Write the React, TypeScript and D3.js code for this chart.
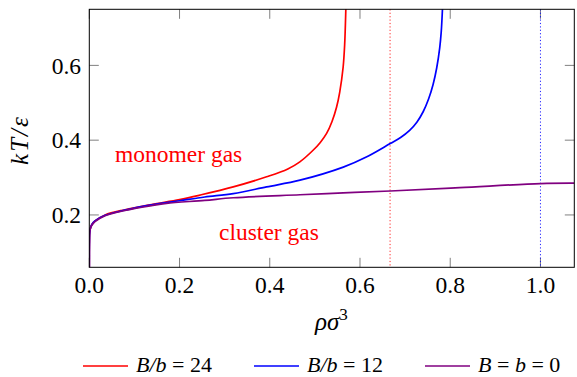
import React, { useEffect, useState } from "react";
import * as d3 from "d3";

// ---- data ----
const redX = [0, 0.0003, 0.001, 0.003, 0.006, 0.0126, 0.035, 0.079, 0.138, 0.2, 0.245, 0.319, 0.393, 0.44, 0.4667, 0.496, 0.512, 0.526, 0.538, 0.548, 0.555, 0.5626, 0.566, 0.5686, 0.5702];
const redY = [0.06, 0.13, 0.155, 0.167, 0.175, 0.184, 0.2, 0.214, 0.228, 0.241, 0.253, 0.275, 0.302, 0.323, 0.342, 0.373, 0.394, 0.418, 0.45, 0.488, 0.528, 0.595, 0.655, 0.75, 0.83];

const blueX = [0, 0.0003, 0.001, 0.003, 0.006, 0.0126, 0.035, 0.079, 0.138, 0.2, 0.256, 0.319, 0.393, 0.467, 0.563, 0.614, 0.667, 0.69, 0.71, 0.726, 0.74, 0.752, 0.762, 0.77, 0.7767, 0.78, 0.7827, 0.7845];
const blueY = [0.06, 0.13, 0.155, 0.167, 0.175, 0.184, 0.199, 0.213, 0.227, 0.238, 0.248, 0.257, 0.275, 0.293, 0.328, 0.355, 0.391, 0.407, 0.426, 0.448, 0.476, 0.51, 0.549, 0.593, 0.647, 0.689, 0.749, 0.82];

const purpleX = [0, 0.0003, 0.001, 0.003, 0.006, 0.0126, 0.035, 0.079, 0.138, 0.171, 0.256, 0.319, 0.467, 0.563, 0.667, 0.821, 1.0, 1.075];
const purpleY = [0.06, 0.13, 0.155, 0.166, 0.173, 0.182, 0.198, 0.212, 0.225, 0.231, 0.239, 0.246, 0.254, 0.259, 0.264, 0.273, 0.284, 0.285];

const xTicks = [0, 0.2, 0.4, 0.6, 0.8, 1.0];
const yTicks = [0.2, 0.4, 0.6];
const redLimit = 2 / 3;
const blueLimit = 1.0;

const legendLabels = [
  { it: "B/b", rest: " = 24", color: "#ff0000" },
  { it: "B/b", rest: " = 12", color: "#0000ff" },
  { it: "B", rest: " = ", it2: "b", rest2: " = 0", color: "#800080" },
];

const W = 577, H = 377;
const L = 89.3, R = 574.3, T = 9.3, B = 267.3;
const FS = { fontFamily: `"Liberation Serif"` };

export default function App() {
  const [k, setK] = useState(0);
  useEffect(() => {
    const d: any = document as any;
    if (d.fonts && d.fonts.load) {
      Promise.all([
        d.fonts.load(`22px "Liberation Serif"`),
        d.fonts.load(`italic 22px "Liberation Serif"`),
      ]).then(() => setK(1)).catch(() => {});
    }
  }, []);

  const x = d3.scaleLinear().domain([0, 1.075]).range([L, R]);
  const y = d3.scaleLinear().domain([0.06, 0.75]).range([B, T]);
  const line = (xs: number[], ys: number[]) =>
    d3.line<number>().x((_, i) => x(xs[i])).y((_, i) => y(ys[i])).curve(d3.curveCatmullRom.alpha(0.5))(xs) || "";

  const series = [
    { xs: redX, ys: redY, color: "#ff0000" },
    { xs: blueX, ys: blueY, color: "#0000ff" },
    { xs: purpleX, ys: purpleY, color: "#800080" },
  ];
  const tickLen = 9.5;
  const legendX = [83, 254, 425];

  return (
    <svg key={k} width={W} height={H} style={{ position: "absolute", left: 0, top: 0 }} fontFamily="Liberation Serif">
      <defs>
        <clipPath id={"plotclip" + k}>
          <rect x={L} y={T} width={R - L} height={B - T} />
        </clipPath>
      </defs>
      {xTicks.map((t) => (
        <g key={"xt" + t} stroke="#808080" strokeWidth={1}>
          <line x1={x(t)} x2={x(t)} y1={B} y2={B - tickLen} />
          <line x1={x(t)} x2={x(t)} y1={T} y2={T + tickLen} />
        </g>
      ))}
      {yTicks.map((t) => (
        <g key={"yt" + t} stroke="#808080" strokeWidth={1}>
          <line x1={L} x2={L + tickLen} y1={y(t)} y2={y(t)} />
          <line x1={R} x2={R - tickLen} y1={y(t)} y2={y(t)} />
        </g>
      ))}
      <line x1={x(redLimit)} x2={x(redLimit)} y1={T} y2={B} stroke="#ff0000" strokeWidth={1} strokeDasharray="1.2,2.2" opacity={0.85} />
      <line x1={x(blueLimit)} x2={x(blueLimit)} y1={T} y2={B} stroke="#0000ff" strokeWidth={1} strokeDasharray="1.2,2.2" opacity={0.85} />
      <g clipPath={`url(#plotclip${k})`}>
        {series.map((s, i) => (
          <path key={i} d={line(s.xs, s.ys)} fill="none" stroke={s.color} strokeWidth={1.7} />
        ))}
      </g>
      <rect x={L} y={T} width={R - L} height={B - T} fill="none" stroke="#000" strokeWidth={1} />
      {xTicks.map((t) => (
        <text key={"xl" + t} style={FS} x={x(t)} y={293} fontSize={23.5} textAnchor="middle">{t.toFixed(1)}</text>
      ))}
      {yTicks.map((t) => (
        <text key={"yl" + t} style={FS} x={81} y={y(t)} dy="0.35em" fontSize={23.5} textAnchor="end">{t.toFixed(1)}</text>
      ))}
      <text style={FS} x={315} y={330} fontSize={25} fontStyle="italic">ρσ<tspan dy={-10} fontSize={17} fontStyle="normal">3</tspan></text>
      <text style={FS} transform="translate(28,140) rotate(-90)" fontSize={25} textAnchor="middle" fontStyle="italic" letterSpacing={2}>kT/ε</text>
      <text style={FS} x={115} y={162} fontSize={23.5} fill="#ff0000">monomer gas</text>
      <text style={FS} x={219} y={239.5} fontSize={23.5} fill="#ff0000">cluster gas</text>
      {legendLabels.map((lg, i) => (
        <g key={"lg" + i}>
          <line x1={legendX[i]} x2={legendX[i] + 45} y1={366} y2={366} stroke={lg.color} strokeWidth={1.7} />
          <text style={FS} x={legendX[i] + 53} y={372} fontSize={22}>
            <tspan fontStyle="italic">{lg.it}</tspan>
            <tspan>{lg.rest}</tspan>
            {lg.it2 ? <tspan fontStyle="italic">{lg.it2}</tspan> : null}
            {lg.rest2 ? <tspan>{lg.rest2}</tspan> : null}
          </text>
        </g>
      ))}
    </svg>
  );
}
